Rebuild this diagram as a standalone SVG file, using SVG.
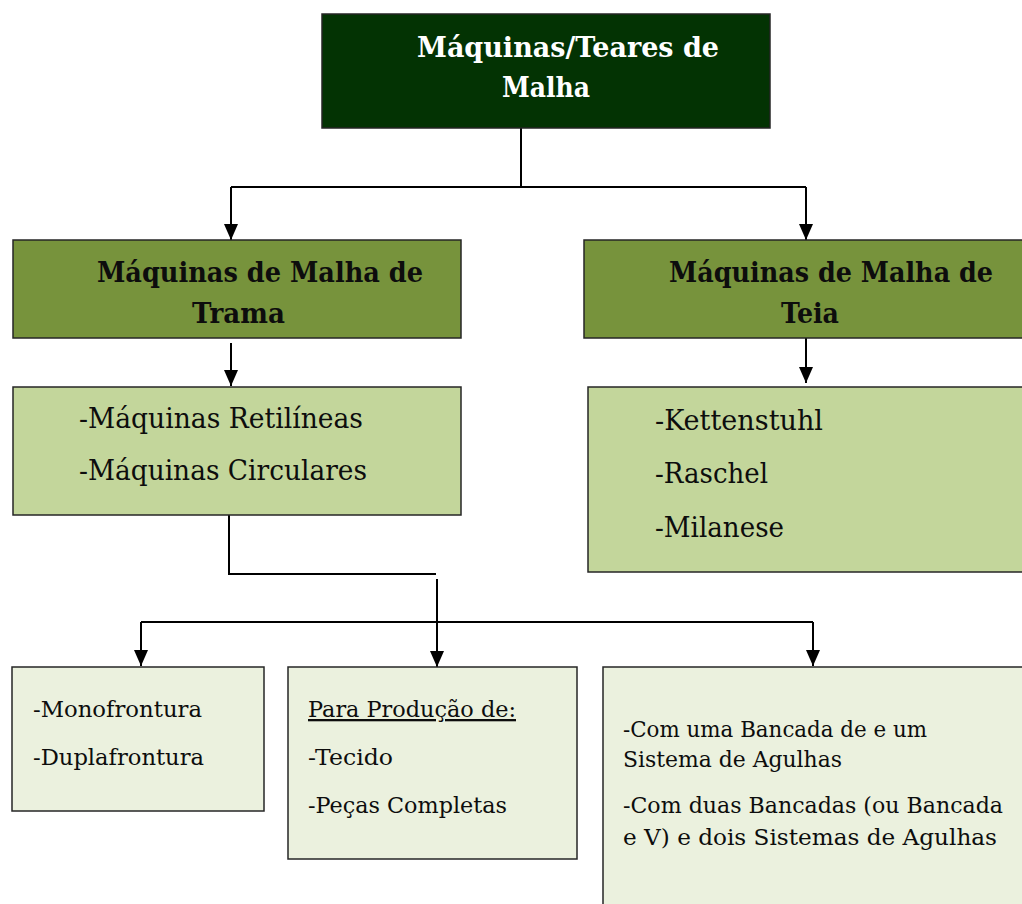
<svg xmlns="http://www.w3.org/2000/svg" width="1022" height="904" viewBox="0 0 1022 904">
<style>
.b{stroke:#262626;stroke-width:1.5}
.dk{fill:#033303}
.md{fill:#77933C}
.lt{fill:#C3D69B}
.pl{fill:#EBF1DE}
.tb{font-family:"DejaVu Serif",serif;font-weight:bold;font-size:28px}
.t1{font-family:"DejaVu Serif",serif;font-size:27px;fill:#0d0d0d}
.t2{font-family:"DejaVu Serif",serif;font-size:23px;fill:#0d0d0d}
.c{fill:none;stroke:#000;stroke-width:2}
</style>
<defs>
<marker id="ah" markerUnits="userSpaceOnUse" markerWidth="17" markerHeight="14" refX="16" refY="7" orient="auto">
<path d="M0,0 L16,7 L0,14 z" fill="#000"/>
</marker>
</defs>
<rect width="1022" height="904" fill="#fff"/>
<g id="connectors">
<path class="c" d="M521,128 V187"/>
<path class="c" d="M231,187 H806"/>
<path class="c" d="M231,187 V240" marker-end="url(#ah)"/>
<path class="c" d="M806,187 V240" marker-end="url(#ah)"/>
<path class="c" d="M231,343 V386" marker-end="url(#ah)"/>
<path class="c" d="M806,338 V383" marker-end="url(#ah)"/>
<path class="c" d="M229,515 V574 H436"/>
<path class="c" d="M437,579 V667" marker-end="url(#ah)"/>
<path class="c" d="M141,622 H813"/>
<path class="c" d="M141,622 V666" marker-end="url(#ah)"/>
<path class="c" d="M813,622 V666" marker-end="url(#ah)"/>
</g>
<g id="root">
<rect class="b dk" x="322" y="14" width="448" height="114"/>
<text class="tb" fill="#fff" x="417" y="57" textLength="302" lengthAdjust="spacingAndGlyphs">Máquinas/Teares de</text>
<text class="tb" fill="#fff" x="502" y="97" textLength="88" lengthAdjust="spacingAndGlyphs">Malha</text>
</g>
<g id="trama">
<rect class="b md" x="13" y="240" width="448" height="98"/>
<text class="tb" fill="#0d0d0d" x="97" y="282" textLength="326" lengthAdjust="spacingAndGlyphs">Máquinas de Malha de</text>
<text class="tb" fill="#0d0d0d" x="192" y="323" textLength="93" lengthAdjust="spacingAndGlyphs">Trama</text>
</g>
<g id="teia">
<rect class="b md" x="584" y="240" width="450" height="98"/>
<text class="tb" fill="#0d0d0d" x="669" y="282" textLength="324" lengthAdjust="spacingAndGlyphs">Máquinas de Malha de</text>
<text class="tb" fill="#0d0d0d" x="781" y="323" textLength="58" lengthAdjust="spacingAndGlyphs">Teia</text>
</g>
<g id="trama-tipos">
<rect class="b lt" x="13" y="387" width="448" height="128"/>
<text class="t1" x="79" y="428" textLength="284" lengthAdjust="spacingAndGlyphs">-Máquinas Retilíneas</text>
<text class="t1" x="79" y="480" textLength="288" lengthAdjust="spacingAndGlyphs">-Máquinas Circulares</text>
</g>
<g id="teia-tipos">
<rect class="b lt" x="588" y="387" width="450" height="185"/>
<text class="t1" x="655" y="430" textLength="168" lengthAdjust="spacingAndGlyphs">-Kettenstuhl</text>
<text class="t1" x="655" y="483" textLength="113" lengthAdjust="spacingAndGlyphs">-Raschel</text>
<text class="t1" x="655" y="537" textLength="129" lengthAdjust="spacingAndGlyphs">-Milanese</text>
</g>
<g id="frontura">
<rect class="b pl" x="12" y="667" width="252" height="144"/>
<text class="t2" x="33" y="717" textLength="169" lengthAdjust="spacingAndGlyphs">-Monofrontura</text>
<text class="t2" x="33" y="765" textLength="171" lengthAdjust="spacingAndGlyphs">-Duplafrontura</text>
</g>
<g id="producao">
<rect class="b pl" x="288" y="667" width="289" height="192"/>
<text class="t2" x="308" y="717" textLength="208" lengthAdjust="spacingAndGlyphs" text-decoration="underline">Para Produção de:</text>
<text class="t2" x="308" y="765" textLength="85" lengthAdjust="spacingAndGlyphs">-Tecido</text>
<text class="t2" x="308" y="813" textLength="199" lengthAdjust="spacingAndGlyphs">-Peças Completas</text>
</g>
<g id="bancadas">
<rect class="b pl" x="603" y="667" width="440" height="250"/>
<text class="t2" x="623" y="737" textLength="304" lengthAdjust="spacingAndGlyphs">-Com uma Bancada de e um</text>
<text class="t2" x="623" y="767" textLength="219" lengthAdjust="spacingAndGlyphs">Sistema de Agulhas</text>
<text class="t2" x="623" y="813" textLength="380" lengthAdjust="spacingAndGlyphs">-Com duas Bancadas (ou Bancada</text>
<text class="t2" x="623" y="845" textLength="374" lengthAdjust="spacingAndGlyphs">e V) e dois Sistemas de Agulhas</text>
</g>
</svg>
